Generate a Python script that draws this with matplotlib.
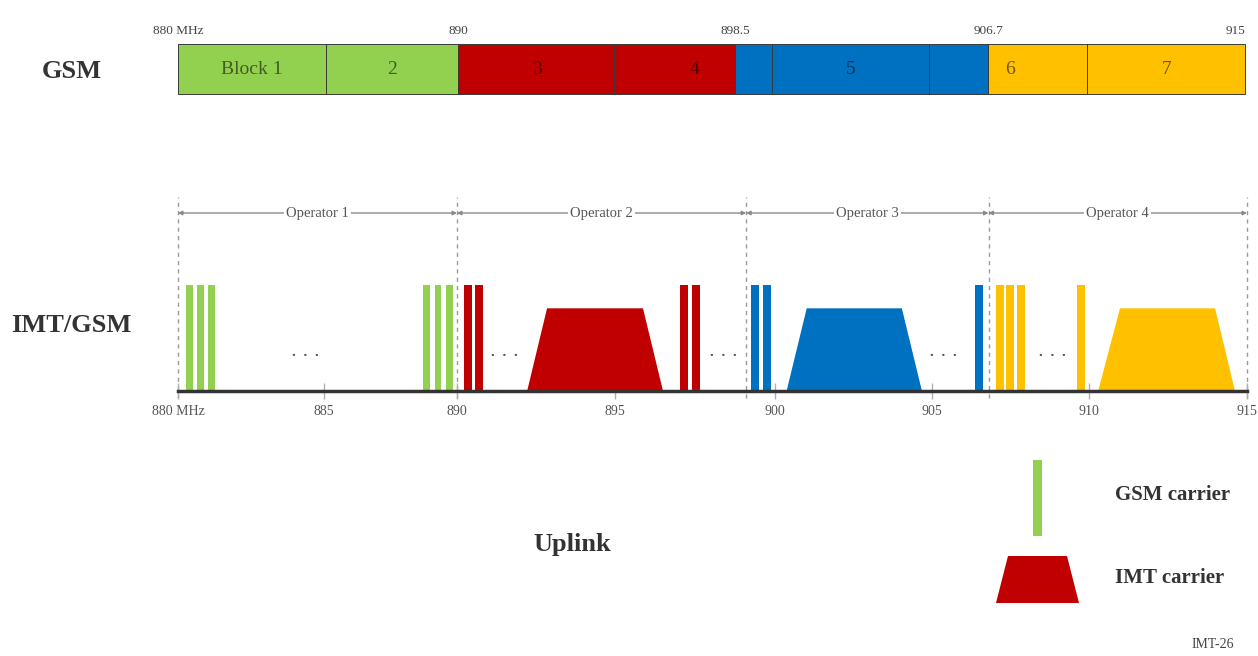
import numpy as np
import matplotlib
matplotlib.use("Agg")
import matplotlib.pyplot as plt
from matplotlib.patches import Polygon

plt.rcParams['font.family'] = ['Liberation Serif', 'DejaVu Serif']

# ---------------- data ----------------
op_colors = ['#92d050', '#c00000', '#0070c0', '#ffc000']

# GSM block plan (MHz)
gsm_edges = [880, 885.3, 890, 894.8, 898.5, 899.7, 904.8, 906.7, 909.9, 915]
gsm_block_op = [0, 0, 1, 1, 2, 2, 2, 3, 3]
gsm_block_labels = ['Block 1', '2', '3', '4', '5', '6', '7']
gsm_label_x = [882.64, 887.64, 892.43, 897.27, 902.26, 907.41, 912.48]
gsm_freq_marks = [880, 890, 898.5, 906.7, 915]
gsm_freq_labels = ['880 MHz', '890', '898.5', '906.7', '915']

# IMT/GSM uplink
op_bounds = [880, 890, 899.1, 906.8, 915]
op_names = ['Operator 1', 'Operator 2', 'Operator 3', 'Operator 4']
gsm_carriers = [  # centre frequencies (MHz) per operator
    [880.40, 880.78, 881.15, 888.85, 889.28, 889.71],
    [890.36, 890.70, 897.17, 897.52],
    [899.39, 899.74, 906.50],
    [907.16, 907.49, 907.83, 909.74],
]
gsm_width = 0.25
imt_carriers = [  # (bottom-left, top-left, top-right, bottom-right) MHz
    None,
    (892.22, 892.85, 895.875, 896.50),
    (900.37, 901.01, 904.04, 904.68),
    (910.29, 910.98, 913.99, 914.62),
]
imt_height = 0.78
ellipsis_x = [884.35, 891.49, 898.38, 905.35, 908.82]
ticks = [880, 885, 890, 895, 900, 905, 910, 915]
tick_labels = ['880 MHz', '885', '890', '895', '900', '905', '910', '915']

# schematic (non-linear) frequency scales of the drawing
top_knots_f = [880, 890, 898.5, 906.7, 915]
top_knots_p = [178, 458, 735, 988, 1245]
bot_knots_f = [880, 885, 890, 895, 900, 905, 910, 915]
bot_knots_p = [178, 324, 457, 615, 775, 932, 1089, 1247]

W, H = 1258, 656
fig = plt.figure(figsize=(W / 100, H / 100), dpi=100)


def px_axes(x0, x1, ytop, ybot):
    return fig.add_axes([x0 / W, 1 - ybot / H, (x1 - x0) / W, (ybot - ytop) / H])


def scale_for(kf, kp):
    fwd = lambda x: np.interp(x, kf, kp)
    inv = lambda x: np.interp(x, kp, kf)
    return fwd, inv


# ---------------- top GSM bar ----------------
axt = px_axes(178, 1245, 44, 94)
axt.set_xscale('function', functions=scale_for(top_knots_f, top_knots_p))
axt.set_xlim(880, 915)
axt.set_ylim(0, 1)
axt.axis('off')
lefts = gsm_edges[:-1]
widths = np.diff(gsm_edges)
bars = axt.bar(lefts, 1, width=widths, align='edge',
               color=[op_colors[i] for i in gsm_block_op],
               edgecolor='#3a3a3a', linewidth=0.7)
for b in bars:
    b.set_clip_on(False)
for lab, x in zip(gsm_block_labels, gsm_label_x):
    axt.text(x, 0.5, lab, ha='center', va='center', fontsize=14,
             color='black', alpha=0.55)
for lab, x in zip(gsm_freq_labels, gsm_freq_marks):
    ha = 'right' if x == 915 else 'center'
    axt.text(x, 1.26, lab, ha=ha, va='center', fontsize=9.5,
             color='#444444', clip_on=False)

# ---------------- bottom IMT/GSM panel ----------------
unit = 106.0
axb = px_axes(178, 1247, 180, 391)
axb.set_xscale('function', functions=scale_for(bot_knots_f, bot_knots_p))
axb.set_xlim(880, 915)
axb.set_ylim(0, 211 / unit)
for s in ['top', 'left', 'right']:
    axb.spines[s].set_visible(False)
axb.spines['bottom'].set_color('#333333')
axb.spines['bottom'].set_linewidth(2.5)
axb.spines['bottom'].set_zorder(5)
axb.set_yticks([])
axb.set_xticks(ticks)
axb.set_xticklabels(tick_labels, fontsize=10, color='#555555')
axb.tick_params(axis='x', direction='inout', length=12, width=1,
                color='#b0b0b0', pad=4)
axb.xaxis.set_minor_locator(matplotlib.ticker.NullLocator())

# operator boundaries
axb.vlines(op_bounds, -0.07, 1.83, colors='#9a9a9a', linewidth=1,
           linestyles=(0, (3, 3)), clip_on=False, zorder=1)

arrow_y = (391 - 213) / unit
fwd_b, inv_b = scale_for(bot_knots_f, bot_knots_p)
for i, name in enumerate(op_names):
    a, b = op_bounds[i], op_bounds[i + 1]
    axb.annotate('', xy=(b, arrow_y), xytext=(a, arrow_y),
                 arrowprops=dict(arrowstyle='<|-|>', color='#8a8a8a', lw=1,
                                 mutation_scale=6, shrinkA=0, shrinkB=0),
                 annotation_clip=False)
    mid = inv_b((fwd_b(a) + fwd_b(b)) / 2)
    axb.text(mid, arrow_y, name, ha='center', va='center', fontsize=10.5,
             color='#555555',
             bbox=dict(facecolor='white', edgecolor='none', pad=1.5))

# GSM carriers
for i, cs in enumerate(gsm_carriers):
    axb.bar(cs, 1.0, width=gsm_width, color=op_colors[i], linewidth=0,
            zorder=2)

# IMT carriers
for i, tr in enumerate(imt_carriers):
    if tr is None:
        continue
    pts = [(tr[0], 0), (tr[1], imt_height), (tr[2], imt_height), (tr[3], 0)]
    axb.add_patch(Polygon(pts, closed=True, facecolor=op_colors[i],
                          edgecolor='none', zorder=2))

# ellipses
ell_y = (391 - 352) / unit
for x in ellipsis_x:
    axb.text(x, ell_y, '.  .  .', ha='center', va='center', fontsize=11,
             fontweight='bold', color='#555555')

# ---------------- overlay: labels and legend ----------------
axo = fig.add_axes([0, 0, 1, 1], zorder=-1)
axo.set_xlim(0, W)
axo.set_ylim(H, 0)
axo.axis('off')
lab_kw = dict(fontsize=19, fontweight='bold', color='#333333',
              ha='center', va='center')
axo.text(72, 72, 'GSM', **lab_kw)
axo.text(71, 325, 'IMT/GSM', **lab_kw)
axo.text(572, 545, 'Uplink', **lab_kw)

axl = fig.add_axes([0, 0, 1, 1])
axl.set_xlim(0, W)
axl.set_ylim(H, 0)
axl.axis('off')
axl.add_patch(plt.Rectangle((1033, 460), 9, 76, facecolor=op_colors[0],
                            edgecolor='none'))
axl.add_patch(Polygon([(996, 603), (1008, 556), (1067, 556), (1079, 603)],
                      closed=True, facecolor=op_colors[1], edgecolor='none'))
axl.text(1115, 495, 'GSM carrier', fontsize=15, fontweight='bold',
         color='#333333', ha='left', va='center')
axl.text(1115, 578, 'IMT carrier', fontsize=15, fontweight='bold',
         color='#333333', ha='left', va='center')
axl.text(1213, 645, 'IMT-26', fontsize=10, color='#444444',
         ha='center', va='center')

fig.savefig('out.png', dpi=100)
